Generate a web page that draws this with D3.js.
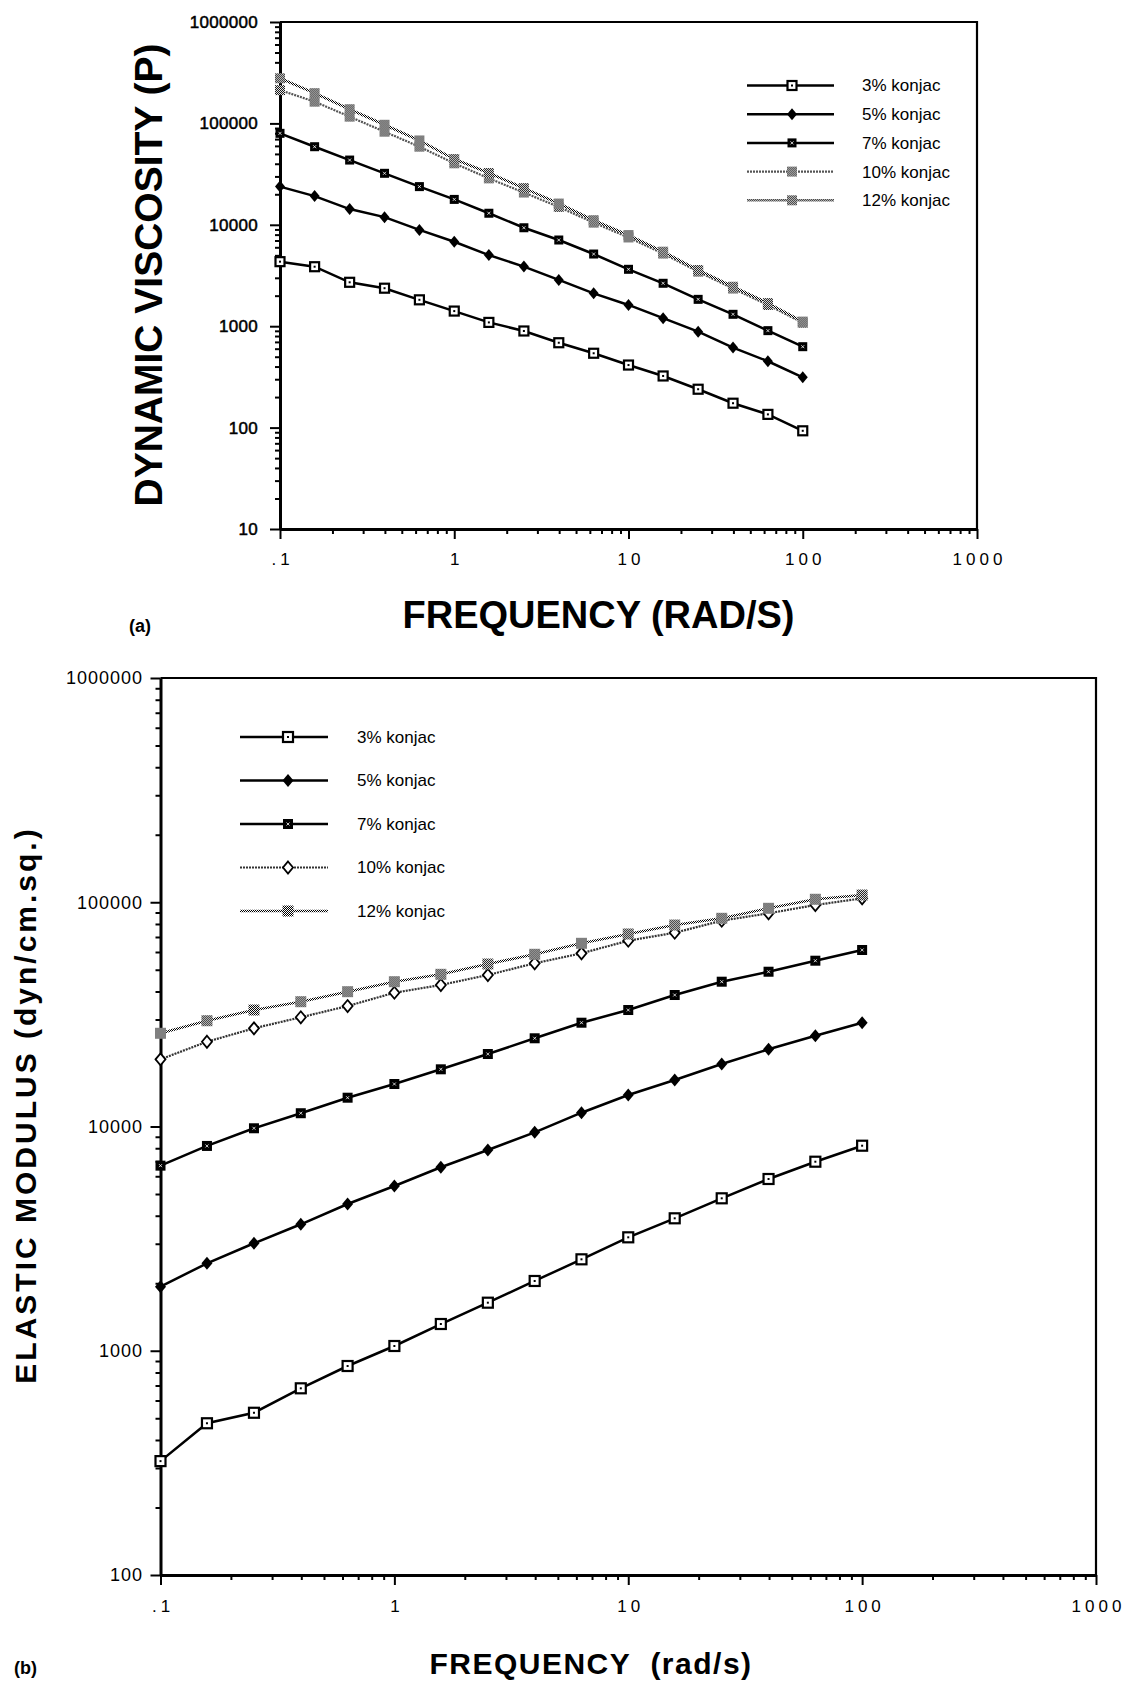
<!DOCTYPE html>
<html>
<head>
<meta charset="utf-8">
<script src="https://cdn.jsdelivr.net/npm/d3@7"></script>
<style>
body { margin: 0; background: #fff; }
svg { display: block; font-family: "Liberation Sans", Arial, Helvetica, sans-serif; }
</style>
</head>
<body>
<svg class="canvas" width="1124" height="1681"></svg>
<script>
var freq = [0.1, 0.158, 0.251, 0.398, 0.631, 1, 1.58, 2.51, 3.98, 6.31, 10, 15.8, 25.1, 39.8, 63.1, 100]
var seriesNames = ['3% konjac', '5% konjac', '7% konjac', '10% konjac', '12% konjac']

// (a) dynamic viscosity, P
var visc3 = [4330, 3860, 2710, 2370, 1820, 1410, 1090, 897, 687, 541, 414, 323, 239, 174, 135, 93]
var visc5 = [23800, 19200, 14300, 11900, 8900, 6800, 5030, 3870, 2860, 2110, 1620, 1200, 884, 615, 451, 313]
var visc7 = [79800, 58900, 43500, 32200, 23800, 17800, 13000, 9350, 7080, 5150, 3640, 2650, 1840, 1310, 904, 628]
var visc10 = [213000, 163700, 116500, 82800, 58900, 40400, 28700, 20800, 15000, 10500, 7500, 5200, 3450, 2350, 1620, 1080]
var visc12 = [278600, 198700, 138000, 96900, 67900, 44500, 32400, 23000, 16200, 11100, 7920, 5430, 3580, 2450, 1690, 1110]

// (b) elastic modulus, dyn/cm.sq.
var mod3 = [322, 475, 529, 680, 855, 1050, 1316, 1638, 2047, 2557, 3205, 3896, 4784, 5833, 6966, 8210]
var mod5 = [1930, 2455, 3015, 3664, 4511, 5428, 6579, 7859, 9422, 11520, 13820, 16120, 18990, 22100, 25400, 29030]
var mod7 = [6690, 8190, 9820, 11460, 13440, 15470, 17990, 21050, 24740, 29030, 33070, 38580, 44230, 49000, 54870, 61250]
var mod10 = [19930, 23880, 27410, 30690, 34450, 39500, 42760, 47380, 53430, 59200, 67370, 73140, 82740, 89270, 97200, 104100]
var mod12 = [26040, 29630, 33070, 36020, 39920, 44230, 47710, 53040, 58600, 65600, 72200, 79140, 84800, 93970, 103100, 107700]

var xTicks = [0.1, 1, 10, 100, 1000]
var xTickLabels = ['.1', '1', '10', '100', '1000']
var yTicksA = [10, 100, 1000, 10000, 100000, 1000000]
var yTicksB = [100, 1000, 10000, 100000, 1000000]

var markerKinds = ['openSquare', 'diamond', 'boxX', 'openDiamond', 'checker']

var svg = d3.select('.canvas')
var defs = svg.append('defs')
var pat = defs.append('pattern')
    .attr('id', 'checker')
    .attr('width', 2)
    .attr('height', 2)
    .attr('patternUnits', 'userSpaceOnUse')
pat.append('rect').attr('width', 2).attr('height', 2).attr('fill', '#fff')
pat.append('rect').attr('width', 1).attr('height', 1).attr('fill', '#000')
pat.append('rect').attr('x', 1).attr('y', 1).attr('width', 1).attr('height', 1).attr('fill', '#000')

function minorTicks(lo, hi) {
    var out = []
    for (var d = lo; d < hi; d *= 10)
        for (var k = 2; k < 10; k++) out.push(d * k)
    return out
}

function drawMarker(m, kind, s) {
    var h = s / 2
    if (kind == 'openSquare') {
        m.append('rect').attr('x', -h).attr('y', -h).attr('width', s).attr('height', s)
            .attr('fill', '#fff').attr('stroke', '#000').attr('stroke-width', 2.2)
        m.append('rect').attr('x', -1).attr('y', -1).attr('width', 2).attr('height', 2).attr('fill', '#000')
    } else if (kind == 'diamond') {
        m.append('path').attr('d', 'M0,' + (-h - 1.5) + 'L' + (h + 0.5) + ',0L0,' + (h + 1.5) + 'L' + (-h - 0.5) + ',0Z')
            .attr('fill', '#000')
    } else if (kind == 'boxX') {
        m.append('rect').attr('x', -h).attr('y', -h).attr('width', s).attr('height', s).attr('fill', '#000')
        m.append('path').attr('d', 'M-1.5,-1.5L1.5,1.5M1.5,-1.5L-1.5,1.5').attr('stroke', '#fff').attr('stroke-width', 0.8)
    } else if (kind == 'openDiamond') {
        m.append('path').attr('d', 'M0,' + (-h - 1) + 'L' + h + ',0L0,' + (h + 1) + 'L' + (-h) + ',0Z')
            .attr('fill', '#fff').attr('stroke', '#000').attr('stroke-width', 1.8)
    } else {
        m.append('rect').attr('x', -h - 0.5).attr('y', -h - 0.5).attr('width', s + 1).attr('height', s + 1)
            .attr('fill', 'url(#checker)')
    }
}

function drawChart(c) {
    var x = d3.scaleLog().domain([0.1, 1000]).range([c.left, c.right])
    var y = d3.scaleLog().domain(c.yDomain).range([c.bottom, c.top])
    var g = svg.append('g')

    g.append('path')
        .attr('d', 'M' + c.left + ',' + c.top + 'H' + c.right + 'V' + c.bottom)
        .attr('fill', 'none')
        .attr('stroke', '#000')
        .attr('stroke-width', 2.2)

    var yMinor = g.append('g')
        .attr('transform', 'translate(' + c.left + ',0)')
        .call(d3.axisLeft(y).tickValues(minorTicks(c.yDomain[0], c.yDomain[1])).tickSize(5).tickFormat(''))
    yMinor.select('.domain').remove()
    var yMajor = g.append('g')
        .attr('transform', 'translate(' + c.left + ',0)')
        .call(d3.axisLeft(y).tickValues(c.yTicks).tickSize(10).tickSizeOuter(0)
            .tickPadding(c.yPad).tickFormat(d3.format('d')))

    var xMinor = g.append('g')
        .attr('transform', 'translate(0,' + c.bottom + ')')
        .call(d3.axisBottom(x).tickValues(minorTicks(0.1, 1000)).tickSize(5).tickFormat(''))
    xMinor.select('.domain').remove()
    var xMajor = g.append('g')
        .attr('transform', 'translate(0,' + c.bottom + ')')
        .call(d3.axisBottom(x).tickValues(xTicks).tickSize(10).tickSizeOuter(0)
            .tickPadding(c.xPad).tickFormat(function(d, i) { return xTickLabels[i] }))

    g.selectAll('.domain').attr('stroke-width', 3).attr('stroke', '#000')
    g.selectAll('.tick line').attr('stroke-width', 2).attr('stroke', '#000')
    yMajor.selectAll('text')
        .attr('font-size', c.yFont)
        .attr('letter-spacing', c.yLs)
        .attr('fill', '#000')
        .attr('stroke', '#000')
        .attr('stroke-width', c.yStroke)
    xMajor.selectAll('text')
        .attr('font-size', 17)
        .attr('letter-spacing', 4)
        .attr('dx', 2)
        .attr('fill', '#000')

    var line = d3.line()
        .x(function(d, i) { return x(freq[i]) })
        .y(function(d) { return y(d) })

    c.series.forEach(function(vals, si) {
        var st = c.lines[si]
        g.append('path')
            .datum(vals)
            .attr('d', line)
            .attr('fill', 'none')
            .attr('stroke', st.stroke)
            .attr('stroke-width', st.width)
            .attr('stroke-dasharray', st.dash || null)
        g.append('g').selectAll('g')
            .data(vals)
            .enter().append('g')
            .attr('transform', function(d, i) { return 'translate(' + x(freq[i]) + ',' + y(d) + ')' })
            .each(function() { drawMarker(d3.select(this), c.markers[si], c.ms) })
    })

    var L = c.legend
    var lg = g.append('g').selectAll('g')
        .data(seriesNames)
        .enter().append('g')
        .attr('transform', function(d, i) { return 'translate(0,' + (L.y0 + i * L.dy) + ')' })
    lg.append('line')
        .attr('x1', L.x1).attr('x2', L.x2)
        .attr('stroke', function(d, i) { return c.lines[i].stroke })
        .attr('stroke-width', function(d, i) { return c.lines[i].width })
        .attr('stroke-dasharray', function(d, i) { return c.lines[i].dash || null })
    lg.append('g')
        .attr('transform', 'translate(' + L.mx + ',0)')
        .each(function(d, i) { drawMarker(d3.select(this), c.markers[i], c.ms) })
    lg.append('text')
        .attr('x', L.tx)
        .attr('dy', '0.35em')
        .attr('font-size', 17)
        .text(function(d) { return d })
}

drawChart({
    left: 280, right: 977, top: 22, bottom: 529,
    yDomain: [10, 1000000], yTicks: yTicksA, yPad: 12, xPad: 14,
    yFont: 17, yLs: 0.3, yStroke: 0.5, ms: 9,
    series: [visc3, visc5, visc7, visc10, visc12],
    markers: ['openSquare', 'diamond', 'boxX', 'checker', 'checker'],
    lines: [
        { stroke: '#000', width: 2.5 },
        { stroke: '#000', width: 2.5 },
        { stroke: '#000', width: 2.5 },
        { stroke: '#555', width: 2.2, dash: '2,1' },
        { stroke: 'url(#checker)', width: 2.6 }
    ],
    legend: { x1: 747, x2: 834, mx: 792, tx: 862, y0: 85.5, dy: 28.7 }
})

drawChart({
    left: 160.5, right: 1096, top: 678, bottom: 1575,
    yDomain: [100, 1000000], yTicks: yTicksB, yPad: 7.5, xPad: 15,
    yFont: 18, yLs: 1, yStroke: 0, ms: 10,
    series: [mod3, mod5, mod7, mod10, mod12],
    markers: markerKinds,
    lines: [
        { stroke: '#000', width: 2.5 },
        { stroke: '#000', width: 2.5 },
        { stroke: '#000', width: 2.5 },
        { stroke: '#333', width: 2.2, dash: '2,1' },
        { stroke: 'url(#checker)', width: 2.6 }
    ],
    legend: { x1: 240, x2: 328, mx: 288, tx: 357, y0: 737, dy: 43.5 }
})

// titles
svg.append('text')
    .attr('transform', 'translate(162,275) rotate(-90)')
    .attr('text-anchor', 'middle')
    .attr('font-size', 39)
    .attr('font-weight', 'bold')
    .text('DYNAMIC VISCOSITY (P)')
svg.append('text')
    .attr('x', 598.5).attr('y', 628)
    .attr('text-anchor', 'middle')
    .attr('font-size', 38)
    .attr('font-weight', 'bold')
    .text('FREQUENCY (RAD/S)')
svg.append('text')
    .attr('x', 129).attr('y', 632)
    .attr('font-size', 18)
    .attr('font-weight', 'bold')
    .text('(a)')

svg.append('text')
    .attr('transform', 'translate(36,1105) rotate(-90)')
    .attr('text-anchor', 'middle')
    .attr('font-size', 30)
    .attr('font-weight', 'bold')
    .attr('letter-spacing', 3)
    .text('ELASTIC MODULUS (dyn/cm.sq.)')
svg.append('text')
    .attr('x', 591).attr('y', 1674)
    .attr('text-anchor', 'middle')
    .attr('font-size', 30)
    .attr('font-weight', 'bold')
    .attr('letter-spacing', 1.5)
    .style('white-space', 'pre')
    .text('FREQUENCY  (rad/s)')
svg.append('text')
    .attr('x', 14).attr('y', 1674)
    .attr('font-size', 18)
    .attr('font-weight', 'bold')
    .text('(b)')
</script>
</body>
</html>
